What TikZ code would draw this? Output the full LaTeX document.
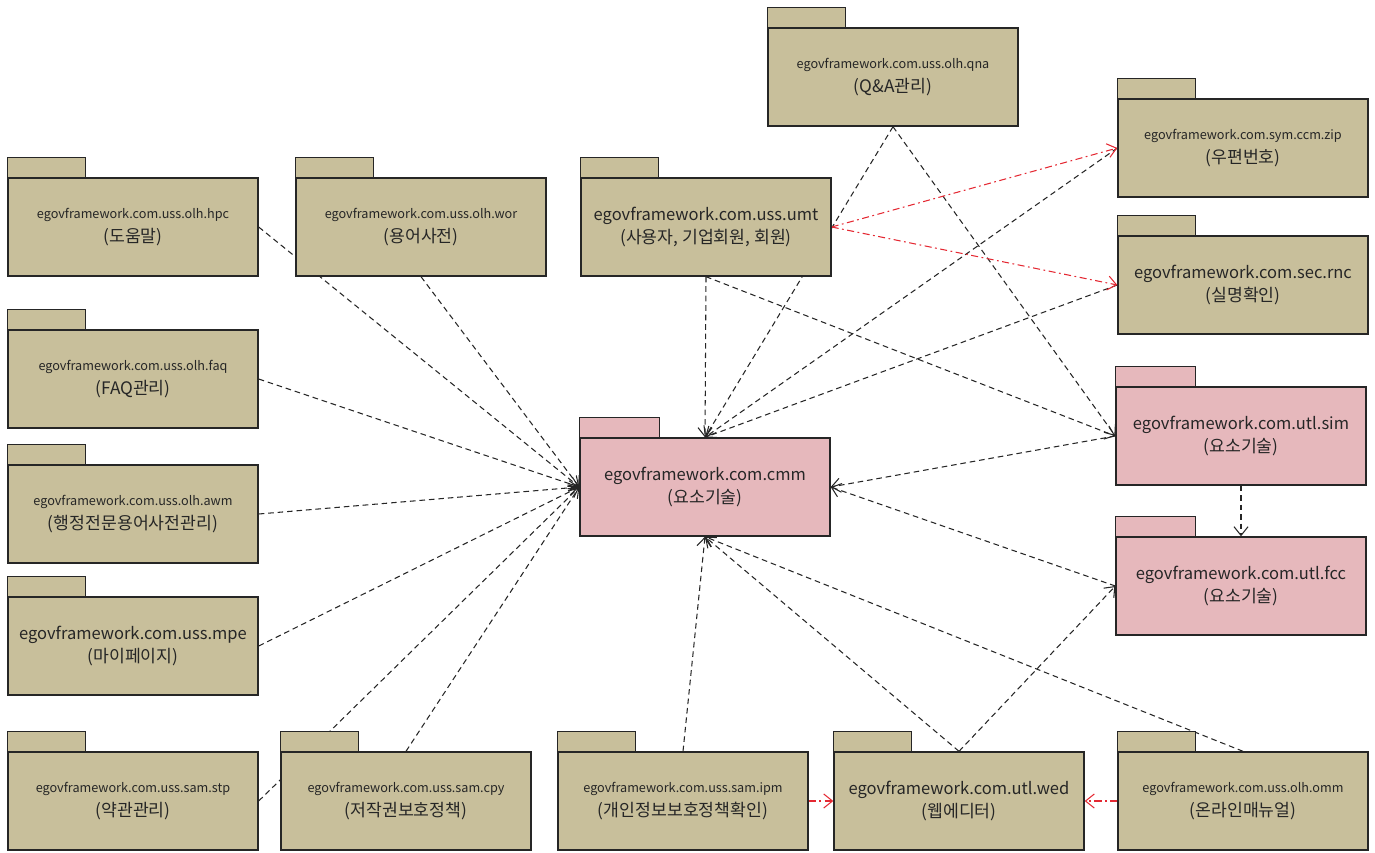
\documentclass[tikz,border=0pt]{standalone}
\usepackage{fontspec}
\setmainfont{Noto Sans CJK KR}
\usetikzlibrary{arrows.meta}
\usetikzlibrary{backgrounds}
\definecolor{pkgTan}{RGB}{200,191,155}
\definecolor{pkgPink}{RGB}{230,184,188}
\definecolor{callRed}{RGB}{228,40,50}
\newcommand{\smallName}[1]{{\fontsize{7.2}{13.5}\selectfont #1}}
\newcommand{\bigName}[1]{{\fontsize{9.4}{13.5}\selectfont #1}}

\begin{document}
\begin{tikzpicture}[x=0.02cm,y=-0.02cm]

            \tikzstyle{pkg} = [draw=black!85, line width=0.8pt, fill=pkgTan, minimum width=5cm, minimum height=1.96cm, inner sep=0pt, align=center, text=black!85, font=\fontsize{9.8}{13.5}\selectfont];
            \tikzstyle{corePkg} = [pkg, fill=pkgPink];
            \tikzstyle{depEdge} = [line width=0.6pt, black!85, dash pattern=on 3.2pt off 2.2pt, -{Straight Barb[length=5pt,width=8pt]}];
            \tikzstyle{callEdge} = [line width=0.6pt, callRed, dash pattern=on 4pt off 2pt on 1pt off 2pt, -{Straight Barb[length=5pt,width=8pt]}];

            \useasboundingbox (0,0) rectangle (1375,852);

            \node[pkg] (qna) at (893,77) {\smallName{egovframework.com.uss.olh.qna}\\(Q\&A관리)};
            \node[pkg] (zip) at (1243,148) {\smallName{egovframework.com.sym.ccm.zip}\\(우편번호)};
            \node[pkg] (rnc) at (1243,285) {\bigName{egovframework.com.sec.rnc}\\(실명확인)};

            \node[pkg] (hpc) at (133,227) {\smallName{egovframework.com.uss.olh.hpc}\\(도움말)};
            \node[pkg] (wor) at (421,227) {\smallName{egovframework.com.uss.olh.wor}\\(용어사전)};
            \node[pkg] (umt) at (706,227) {\bigName{egovframework.com.uss.umt}\\(사용자, 기업회원, 회원)};
            \node[pkg] (faq) at (133,379) {\smallName{egovframework.com.uss.olh.faq}\\(FAQ관리)};
            \node[pkg] (awm) at (133,514) {\smallName{egovframework.com.uss.olh.awm}\\(행정전문용어사전관리)};
            \node[pkg] (mpe) at (133,646) {\bigName{egovframework.com.uss.mpe}\\(마이페이지)};

            \node[corePkg] (cmm) at (705,487) {\bigName{egovframework.com.cmm}\\(요소기술)};
            \node[corePkg] (sim) at (1241,436) {\bigName{egovframework.com.utl.sim}\\(요소기술)};
            \node[corePkg] (fcc) at (1241,586) {\bigName{egovframework.com.utl.fcc}\\(요소기술)};

            \node[pkg] (stp) at (133,801) {\smallName{egovframework.com.uss.sam.stp}\\(약관관리)};
            \node[pkg] (cpy) at (406,801) {\smallName{egovframework.com.uss.sam.cpy}\\(저작권보호정책)};
            \node[pkg] (ipm) at (683,801) {\smallName{egovframework.com.uss.sam.ipm}\\(개인정보보호정책확인)};
            \node[pkg] (wed) at (959,801) {\bigName{egovframework.com.utl.wed}\\(웹에디터)};
            \node[pkg] (omm) at (1243,801) {\smallName{egovframework.com.uss.olh.omm}\\(온라인매뉴얼)};

            \foreach \n in {qna,zip,rnc,hpc,wor,umt,faq,awm,mpe,stp,cpy,ipm,wed,omm}
              \draw[draw=black!85, line width=0.8pt, fill=pkgTan] (\n.north west) rectangle ++(78,-20);
            \foreach \n in {cmm,sim,fcc}
              \draw[draw=black!85, line width=0.8pt, fill=pkgPink] (\n.north west) rectangle ++(80,-20);

            \begin{scope}[on background layer]
            \draw[depEdge] (hpc.east) -- (cmm.west);
            \draw[depEdge] (wor.south) -- (cmm.west);
            \draw[depEdge] (faq.east) -- (cmm.west);
            \draw[depEdge] (awm.east) -- (cmm.west);
            \draw[depEdge] (mpe.east) -- (cmm.west);
            \draw[depEdge] (stp.east) -- (cmm.west);
            \draw[depEdge] (cpy.north) -- (cmm.west);

            \draw[depEdge] (umt.south) -- (cmm.north);
            \draw[depEdge] (qna.south) -- (cmm.north);
            \draw[depEdge] (zip.west) -- (cmm.north);
            \draw[depEdge] (rnc.west) -- (cmm.north);
            \draw[depEdge] (umt.south) -- (sim.west);
            \draw[depEdge] (qna.south) -- (sim.west);

            \draw[depEdge] (sim.west) -- (cmm.east);
            \draw[depEdge] (fcc.west) -- (cmm.east);
            \draw[depEdge] (sim.south) -- (fcc.north);

            \draw[depEdge] (ipm.north) -- (cmm.south);
            \draw[depEdge] (wed.north) -- (cmm.south);
            \draw[depEdge] (omm.north) -- (cmm.south);
            \draw[depEdge] (wed.north) -- (fcc.west);

            \draw[callEdge] (umt.east) -- (zip.west);
            \draw[callEdge] (umt.east) -- (rnc.west);
            \draw[callEdge] (ipm.east) -- (wed.west);
            \draw[callEdge] (omm.west) -- (wed.east);
            \end{scope}
          \end{tikzpicture}
\end{document}
